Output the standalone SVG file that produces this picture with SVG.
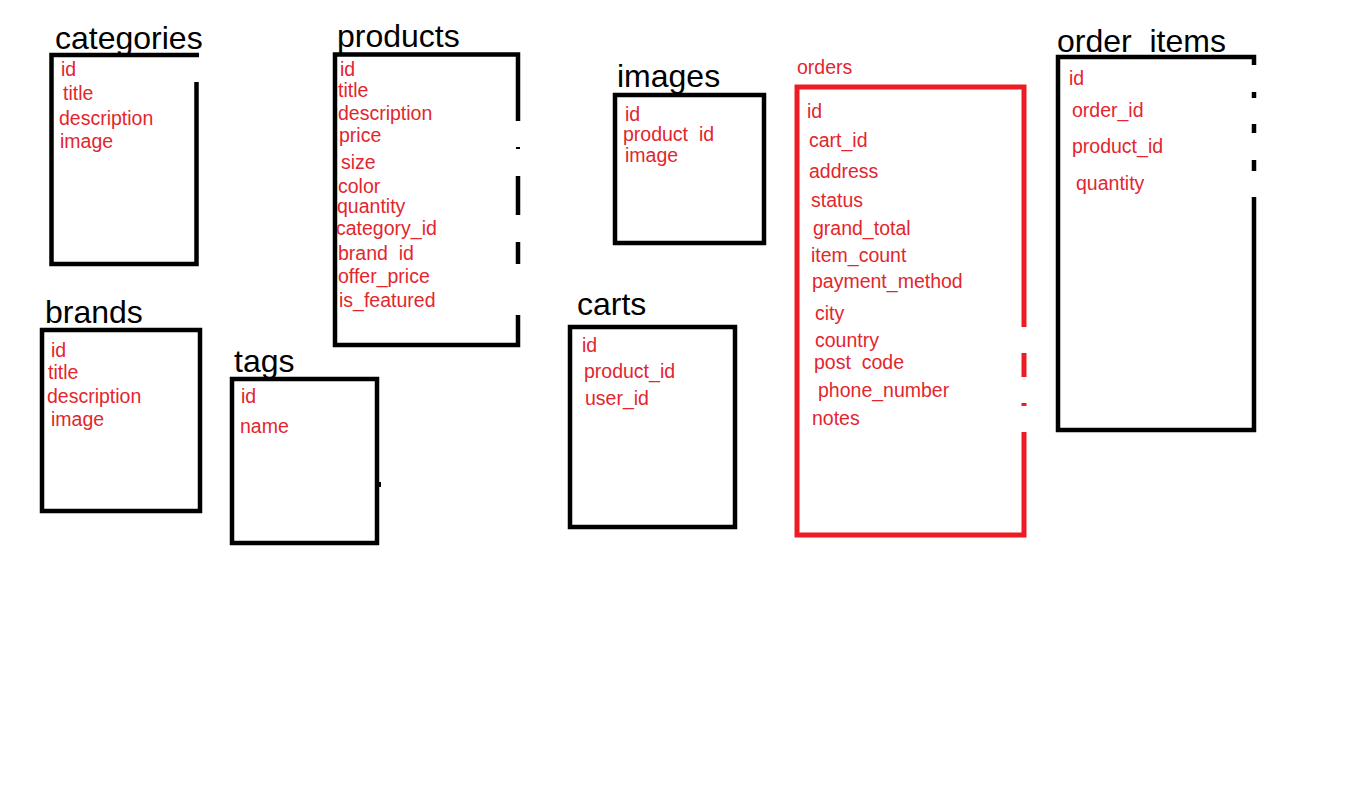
<svg xmlns="http://www.w3.org/2000/svg" width="1360" height="792" viewBox="0 0 1360 792">
<style>
.h{font-family:"Liberation Sans",Arial,sans-serif;font-size:32px;fill:#000}
.f{font-family:"Liberation Sans",Arial,sans-serif;font-size:19.5px;fill:#e3262e;white-space:pre}
.b{fill:none;stroke:#000;stroke-width:4.5}
.r{fill:none;stroke:#ed1c24;stroke-width:5}
</style>
<rect width="1360" height="792" fill="#fff"/>
<g id="connectors"/>
<g id="categories">
<path class="b" d="M199,55 H51.5 V264 H196.5 V82"/>
<text class="h" x="55" y="49">categories</text>
<text class="f" x="61" y="76">id</text>
<text class="f" x="63" y="100">title</text>
<text class="f" x="59" y="125">description</text>
<text class="f" x="60" y="148">image</text>
</g>
<g id="products">
<path class="b" d="M518,121 V54.5 H335 V345 H518 V315 M518,176 V215 M518,242 V264"/>
<rect x="516" y="147" width="4" height="2" fill="#000"/>
<text class="h" x="337" y="47">products</text>
<text class="f" x="340" y="76">id</text>
<text class="f" x="338" y="97">title</text>
<text class="f" x="338" y="120">description</text>
<text class="f" x="339" y="142">price</text>
<text class="f" x="341" y="169">size</text>
<text class="f" x="338" y="193">color</text>
<text class="f" x="337" y="213">quantity</text>
<text class="f" x="336" y="235">category_id</text>
<text class="f" x="338" y="260">brand  id</text>
<text class="f" x="338" y="283">offer_price</text>
<text class="f" x="339" y="307">is_featured</text>
</g>
<g id="images">
<rect class="b" x="615" y="95" width="149" height="148"/>
<text class="h" x="617" y="87">images</text>
<text class="f" x="625" y="121">id</text>
<text class="f" x="623" y="141">product  id</text>
<text class="f" x="625" y="162">image</text>
</g>
<g id="orders">
<path class="r" d="M1024,327 V87 H797 V535 H1024 V432 M1024,353 V377"/>
<rect x="1021.5" y="403" width="5" height="3" fill="#ed1c24"/>
<text class="f" x="797" y="74">orders</text>
<text class="f" x="807" y="118">id</text>
<text class="f" x="809" y="147">cart_id</text>
<text class="f" x="809" y="178">address</text>
<text class="f" x="811" y="207">status</text>
<text class="f" x="813" y="235">grand_total</text>
<text class="f" x="811" y="262">item_count</text>
<text class="f" x="812" y="288">payment_method</text>
<text class="f" x="815" y="320">city</text>
<text class="f" x="815" y="347">country</text>
<text class="f" x="814" y="369">post  code</text>
<text class="f" x="818" y="397">phone_number</text>
<text class="f" x="812" y="425">notes</text>
</g>
<g id="order_items">
<path class="b" d="M1254,65 V57 H1058 V430 H1254 V197 M1254,92 V98 M1254,124 V133 M1254,160 V171"/>
<text class="h" x="1057" y="52">order_items</text>
<text class="f" x="1069" y="85">id</text>
<text class="f" x="1072" y="117">order_id</text>
<text class="f" x="1072" y="153">product_id</text>
<text class="f" x="1076" y="190">quantity</text>
</g>
<g id="brands">
<rect class="b" x="42" y="330" width="158" height="181"/>
<text class="h" x="45" y="323">brands</text>
<text class="f" x="51" y="357">id</text>
<text class="f" x="48" y="379">title</text>
<text class="f" x="47" y="403">description</text>
<text class="f" x="51" y="426">image</text>
</g>
<g id="tags">
<rect class="b" x="232" y="379" width="145" height="164"/>
<rect x="375" y="482" width="6" height="5" fill="#000"/>
<text class="h" x="234" y="372">tags</text>
<text class="f" x="241" y="403">id</text>
<text class="f" x="240" y="433">name</text>
</g>
<g id="carts">
<rect class="b" x="570" y="327" width="165" height="200"/>
<text class="h" x="577" y="315">carts</text>
<text class="f" x="582" y="352">id</text>
<text class="f" x="584" y="378">product_id</text>
<text class="f" x="585" y="405">user_id</text>
</g>
</svg>
